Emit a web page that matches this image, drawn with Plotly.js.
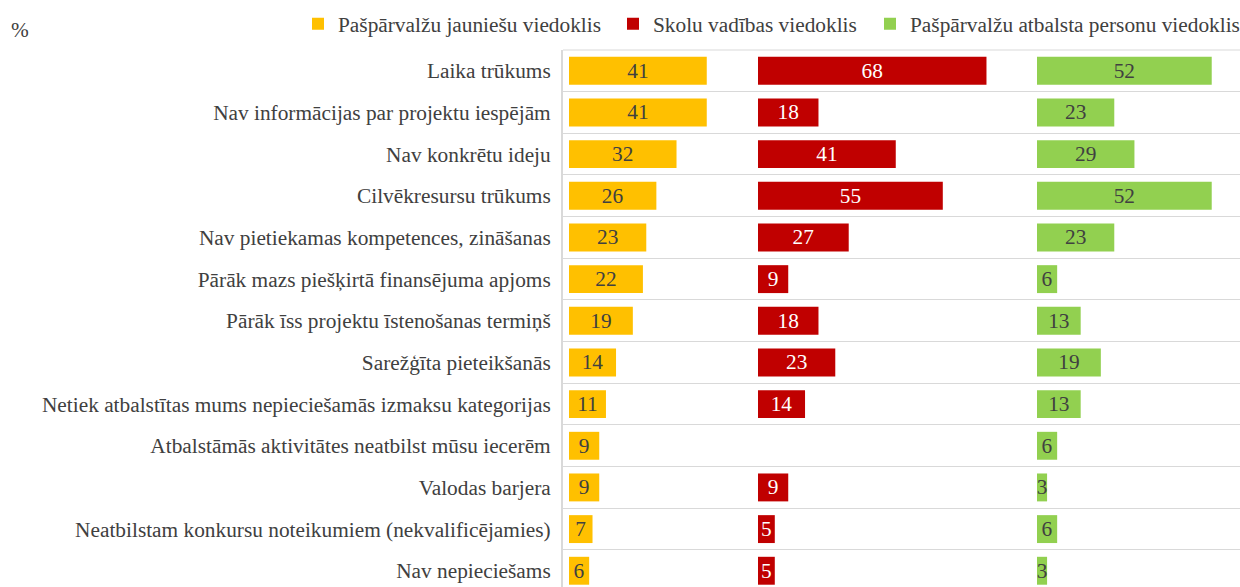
<!DOCTYPE html>
<html><head><meta charset="utf-8">
<script src="https://cdn.plot.ly/plotly-3.0.1.min.js"></script>
<style>html,body{margin:0;padding:0;background:#fff}</style>
</head><body><div id="chart" style="width:1240px;height:587px"></div>
<script>
const categories = [
  "Laika trūkums",
  "Nav informācijas par projektu iespējām",
  "Nav konkrētu ideju",
  "Cilvēkresursu trūkums",
  "Nav pietiekamas kompetences, zināšanas",
  "Pārāk mazs piešķirtā finansējuma apjoms",
  "Pārāk īss projektu īstenošanas termiņš",
  "Sarežģīta pieteikšanās",
  "Netiek atbalstītas mums nepieciešamās izmaksu kategorijas",
  "Atbalstāmās aktivitātes neatbilst mūsu iecerēm",
  "Valodas barjera",
  "Neatbilstam konkursu noteikumiem (nekvalificējamies)",
  "Nav nepieciešams"
];
const seriesNames = ["Pašpārvalžu jauniešu viedoklis", "Skolu vadības viedoklis", "Pašpārvalžu atbalsta personu viedoklis"];
const youth   = [41, 41, 32, 26, 23, 22, 19, 14, 11, 9, 9, 7, 6];
const schools = [68, 18, 41, 55, 27, 9, 18, 23, 14, null, 9, 5, 5];
const support = [52, 23, 29, 52, 23, 6, 13, 19, 13, 6, 3, 6, 3];

const colors = ["#FFC000", "#C00000", "#92D050"];
const textColors = ["#404040", "#FFFFFF", "#404040"];
const FONT = "Liberation Serif";
const FS = 21.33;
const series = [youth, schools, support];
const axes = ["x", "x2", "x3"];
const legends = ["legend", "legend2", "legend3"];

const traces = series.map((vals, i) => ({
  type: "bar", orientation: "h",
  y: categories, x: vals,
  xaxis: axes[i], yaxis: "y",
  name: seriesNames[i],
  legend: legends[i],
  marker: {color: colors[i], line: {width: 0}},
  width: 0.67,
  text: vals.map(v => v == null ? "" : String(v)),
  textposition: "inside",
  insidetextanchor: "middle",
  textangle: 0,
  constraintext: "none",
  textfont: {family: FONT, size: FS, color: textColors[i]},
  hoverinfo: "skip",
  cliponaxis: false
}));

// pixel geometry: plot from x=563 to 1240 (677px), scale ~3.36 px/unit
const W = 677, H = 537, S = 3.36;
const d1 = 195 / W, d2 = 474 / W;
const legendCommon = {orientation: "h", xref: "container", yref: "container",
  yanchor: "middle", y: 1 - 24/587, font: {family: FONT, size: FS, color: "#404040"},
  bgcolor: "rgba(0,0,0,0)", itemwidth: 30, tracegroupgap: 0};

const layout = {
  width: 1240, height: 587,
  margin: {l: 563, r: 0, t: 50, b: 0, pad: 0},
  paper_bgcolor: "#fff", plot_bgcolor: "#fff",
  font: {family: FONT, size: FS, color: "#404040"},
  showlegend: true,
  xaxis:  {domain: [0, d1], range: [-6/S, (195-6)/S], visible: false, fixedrange: true},
  xaxis2: {domain: [d1, d2], range: [0, 279/S], visible: false, anchor: "y", fixedrange: true},
  xaxis3: {domain: [d2, 1], range: [0, 203/S], visible: false, anchor: "y", fixedrange: true},
  yaxis: {
    type: "category", range: [12.39, -0.5], anchor: "x",
    tickson: "boundaries", showgrid: true, gridcolor: "#D9D9D9", gridwidth: 1,
    showline: true, linecolor: "#D9D9D9", linewidth: 2,
    ticks: "", ticklabelstandoff: 6,
    tickfont: {family: FONT, size: FS, color: "#404040"},
    zeroline: false, fixedrange: true
  },
  legend:  Object.assign({}, legendCommon, {x: (340-42)/1240, xanchor: "left"}),
  legend2: Object.assign({}, legendCommon, {x: (655-42)/1240, xanchor: "left"}),
  legend3: Object.assign({}, legendCommon, {x: (912-42)/1240, xanchor: "left"}),
  shapes: [{type: "line", xref: "paper", yref: "paper", x0: 0, x1: 1, y0: 1, y1: 1,
    line: {color: "#D9D9D9", width: 1}}],
  annotations: [{text: "%", xref: "paper", yref: "paper",
    x: (9 - 563) / W, xanchor: "left", y: 1 + 20 / H, yanchor: "middle", showarrow: false,
    font: {family: FONT, size: FS, color: "#404040"}}],
  bargap: 0.33
};

Plotly.newPlot("chart", traces, layout, {displayModeBar: false, staticPlot: true});
</script></body></html>
